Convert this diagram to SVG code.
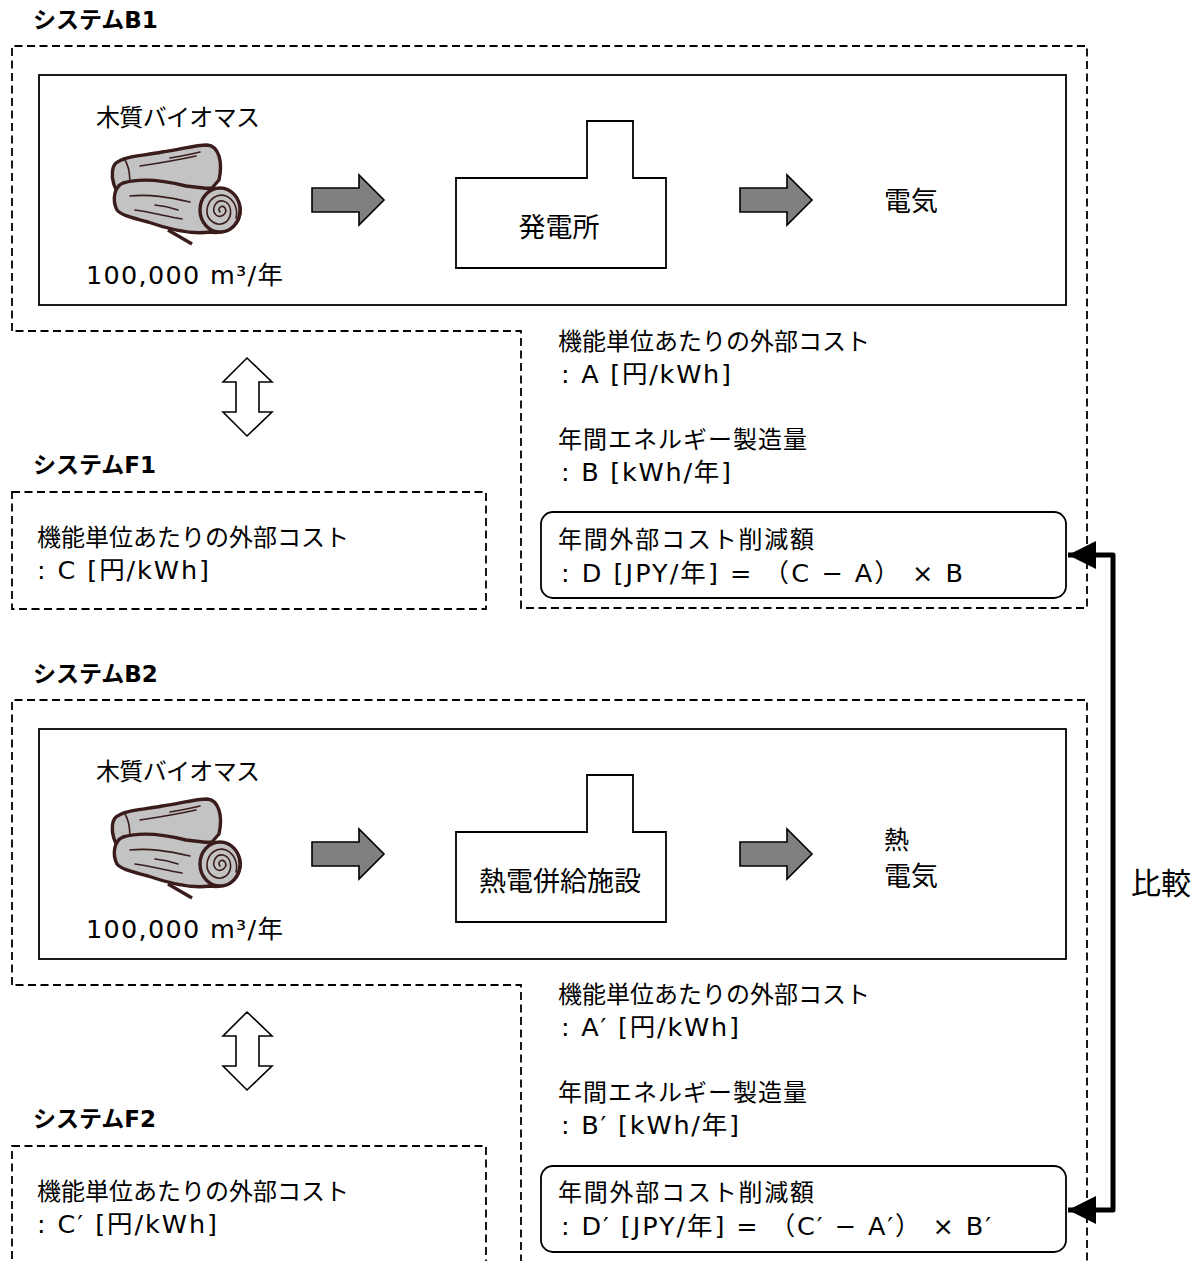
<svg xmlns="http://www.w3.org/2000/svg" xmlns:xlink="http://www.w3.org/1999/xlink" width="1196" height="1261" viewBox="0 0 1196 1261">
  <style>
    .dash { fill: none; stroke: #000; stroke-width: 1.8; stroke-dasharray: 8 4.5; }
    .frame { fill: none; stroke: #000; stroke-width: 1.8; }
    .rbox { fill: #fff; stroke: #000; stroke-width: 1.8; }
    .plant { fill: #fff; stroke: #000; stroke-width: 1.8; }
    .flow { fill: #808080; stroke: #000; stroke-width: 1.6; }
    .swap { fill: #fff; stroke: #000; stroke-width: 1.6; }
    .log { fill: #c3c3c3; stroke: #3a1c1c; stroke-width: 3.4; stroke-linejoin: round; }
    .grain { fill: none; stroke: #3a1c1c; stroke-width: 1.6; stroke-linecap: round; }
    .head { font-family: "DejaVu Sans", "Noto Sans CJK JP", sans-serif; font-weight: bold; font-size: 23px; fill: #000; }
    .jp { font-family: "Noto Sans CJK JP", sans-serif; font-size: 24px; fill: #000; }
    .big { font-family: "Noto Sans CJK JP", sans-serif; font-size: 27px; fill: #000; }
    .mix { font-family: "DejaVu Sans", "Noto Sans CJK JP", sans-serif; font-size: 25.5px; fill: #000; }
    .link { fill: none; stroke: #000; stroke-width: 5; stroke-linejoin: round; }
  </style>
  <defs>
    <marker id="head" markerUnits="userSpaceOnUse" markerWidth="30" markerHeight="30" viewBox="-29 -15 30 30" refX="0" refY="0" orient="auto-start-reverse">
      <path d="M0,0 L-28,-14 L-28,14 Z" fill="#000"/>
    </marker>
    <!-- stacked logs icon -->
    <g id="logIcon">
      <path class="log" d="M116,163 C124,156 142,156 162,152 C182,149 196,145 207,145 C219,146 223,162 219,180 L212,188 L130,198 C113,199 108,170 116,163 Z"/>
      <path class="grain" d="M125,160 C131,170 131,187 127,197"/>
      <path class="grain" d="M140,166 C160,163 178,160 196,156"/>
      <path class="grain" d="M170,158 C182,156 192,154 200,152"/>
      <path class="log" d="M123,183 C140,178 162,180 186,186 L212,189 C232,190 242,200 240,214 C237,229 224,234 210,232 C190,235 168,229 148,222 C134,218 122,216 117,210 C112,200 114,187 123,183 Z"/>
      <path class="grain" d="M130,196 C150,194 168,197 190,202"/>
      <path class="grain" d="M135,210 C150,212 165,216 182,219"/>
      <path class="grain" d="M155,205 C165,206 172,208 178,210"/>
      <ellipse class="log" cx="220" cy="210" rx="20" ry="22"/>
      <path class="grain" d="M220,212 C217,208 222,204 225,208 C228,213 221,219 216,215 C211,210 215,200 223,201 C232,203 233,216 226,222 C217,228 206,220 207,210 C208,199 217,193 226,196 C235,200 238,210 236,218"/>
      <path class="log" d="M168,230 L192,244" style="fill:none"/>
    </g>
  </defs>

  <!-- group outlines -->
  <g id="systemB1">
    <text class="head" x="33" y="28">システムB1</text>
    <path class="dash" d="M12,331 L12,46 L1087,46 L1087,608 L521,608 L521,331 Z"/>
    <rect class="frame" x="39" y="75" width="1027" height="230"/>
  </g>
  <g id="systemF1">
    <text class="head" x="33" y="473">システムF1</text>
    <rect class="dash" x="12" y="492" width="474" height="117"/>
    <text class="jp" x="37" y="546">機能単位あたりの外部コスト</text>
    <text class="mix" x="37" y="579" textLength="172" lengthAdjust="spacing">: C [円/kWh]</text>
  </g>
  <g id="systemB2">
    <text class="head" x="33" y="682">システムB2</text>
    <path class="dash" d="M12,985 L12,700 L1087,700 L1087,1262 L521,1262 L521,985 Z"/>
    <rect class="frame" x="39" y="729" width="1027" height="230"/>
  </g>
  <g id="systemF2">
    <text class="head" x="33" y="1127">システムF2</text>
    <rect class="dash" x="12" y="1146" width="474" height="120"/>
    <text class="jp" x="37" y="1200">機能単位あたりの外部コスト</text>
    <text class="mix" x="37" y="1233" textLength="180" lengthAdjust="spacing">: C′ [円/kWh]</text>
  </g>

  <!-- system B1 contents -->
  <g id="biomassB1">
    <text class="jp" x="96" y="126" textLength="164" lengthAdjust="spacing">木質バイオマス</text>
    <use xlink:href="#logIcon"/>
    <text class="mix" x="86" y="284" textLength="197" lengthAdjust="spacing">100,000 m³/年</text>
  </g>
  <g id="plantB1">
    <polygon class="plant" points="456,178 587,178 587,121 633,121 633,178 666,178 666,268 456,268"/>
    <text class="big" x="559" y="237" text-anchor="middle">発電所</text>
  </g>
  <g id="outputB1">
    <text class="big" x="884" y="211">電気</text>
  </g>
  <g id="metricsB1">
    <text class="jp" x="558" y="350">機能単位あたりの外部コスト</text>
    <text class="mix" x="561" y="383" textLength="170" lengthAdjust="spacing">: A [円/kWh]</text>
    <text class="jp" x="558" y="448" textLength="249" lengthAdjust="spacing">年間エネルギー製造量</text>
    <text class="mix" x="561" y="481" textLength="170" lengthAdjust="spacing">: B [kWh/年]</text>
  </g>
  <g id="savingB1">
    <rect class="rbox" x="541" y="512" width="525" height="86" rx="12"/>
    <text class="jp" x="558" y="548" textLength="256" lengthAdjust="spacing">年間外部コスト削減額</text>
    <text class="mix" x="561" y="582" textLength="402" lengthAdjust="spacing">: D [JPY/年] = （C − A） × B</text>
  </g>

  <!-- system B2 contents -->
  <g id="biomassB2">
    <text class="jp" x="96" y="780" textLength="164" lengthAdjust="spacing">木質バイオマス</text>
    <use xlink:href="#logIcon" transform="translate(0,654)"/>
    <text class="mix" x="86" y="938" textLength="197" lengthAdjust="spacing">100,000 m³/年</text>
  </g>
  <g id="plantB2">
    <polygon class="plant" points="456,832 587,832 587,775 633,775 633,832 666,832 666,922 456,922"/>
    <text class="big" x="560" y="891" text-anchor="middle">熱電併給施設</text>
  </g>
  <g id="outputB2">
    <text class="big" x="884" y="849" style="font-size:25px">熱</text>
    <text class="big" x="884" y="886">電気</text>
  </g>
  <g id="metricsB2">
    <text class="jp" x="558" y="1003">機能単位あたりの外部コスト</text>
    <text class="mix" x="561" y="1036" textLength="178" lengthAdjust="spacing">: A′ [円/kWh]</text>
    <text class="jp" x="558" y="1101" textLength="249" lengthAdjust="spacing">年間エネルギー製造量</text>
    <text class="mix" x="561" y="1134" textLength="178" lengthAdjust="spacing">: B′ [kWh/年]</text>
  </g>
  <g id="savingB2">
    <rect class="rbox" x="541" y="1166" width="525" height="86" rx="12"/>
    <text class="jp" x="558" y="1201" textLength="256" lengthAdjust="spacing">年間外部コスト削減額</text>
    <text class="mix" x="561" y="1235" textLength="430" lengthAdjust="spacing">: D′ [JPY/年] = （C′ − A′） × B′</text>
  </g>

  <!-- connectors -->
  <g id="connectors">
    <polygon class="flow" points="312,188 359,188 359,175 384,200 359,225 359,212 312,212"/>
    <polygon class="flow" points="740,188 787,188 787,175 812,200 787,225 787,212 740,212"/>
    <polygon class="flow" points="312,842 359,842 359,829 384,854 359,879 359,866 312,866"/>
    <polygon class="flow" points="740,842 787,842 787,829 812,854 787,879 787,866 740,866"/>
    <polygon class="swap" points="247,358 272,382 259,382 259,412 272,412 247,436 223,412 236,412 236,382 223,382"/>
    <polygon class="swap" points="247,1012 272,1036 259,1036 259,1066 272,1066 247,1090 223,1066 236,1066 236,1036 223,1036"/>
    <path class="link" d="M1068,555 L1113,555 L1113,1210 L1068,1210" marker-start="url(#head)" marker-end="url(#head)"/>
    <text class="jp" x="1131" y="894" style="font-size:30px">比較</text>
  </g>
</svg>
